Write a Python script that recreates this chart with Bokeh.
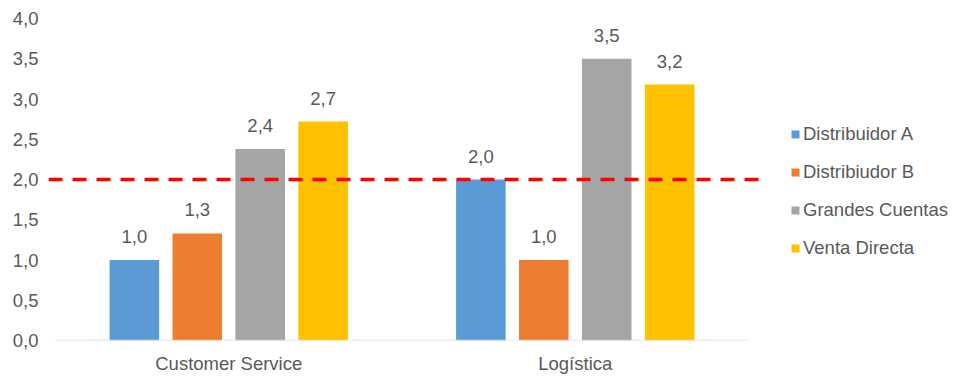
from bokeh.plotting import figure
from bokeh.layouts import row
from bokeh.models import (ColumnDataSource, Range1d, FixedTicker, Span, Legend,
                          LegendItem, LabelSet)
from bokeh.core.properties import value
from bokeh.embed import file_html
from bokeh.resources import INLINE

categories = ["Customer Service", "Logística"]
series = ["Distribuidor A", "Distribiudor B", "Grandes Cuentas", "Venta Directa"]
values = {
    "Distribuidor A": [1.0, 2.0],
    "Distribiudor B": [1.33, 1.0],
    "Grandes Cuentas": [2.38, 3.5],
    "Venta Directa": [2.72, 3.18],
}
colors = ["#5B9BD5", "#ED7D31", "#A5A5A5", "#FFC000"]
threshold = 2.0
y_ticks = [0, 0.5, 1.0, 1.5, 2.0, 2.5, 3.0, 3.5, 4.0]
y_tick_labels = ["0,0", "0,5", "1,0", "1,5", "2,0", "2,5", "3,0", "3,5", "4,0"]

FONT = "Liberation Sans"
FS = "18.5px"
TXT = "#595959"

p = figure(width=760, height=376, output_backend="svg", toolbar_location=None,
           x_range=Range1d(-0.0202, 2.0346), y_range=Range1d(0, 4),
           min_border_left=48, min_border_right=0, min_border_top=18,
           min_border_bottom=35)
p.outline_line_color = None
p.xgrid.visible = False
p.ygrid.visible = False

step = 0.1816
width = 0.143
for i, s in enumerate(series):
    off = (i - 1.5) * step
    xs = [j + 0.5 + off for j in range(len(categories))]
    src = ColumnDataSource(dict(x=xs, top=values[s],
                                lab=[f"{v:.1f}".replace(".", ",") for v in values[s]]))
    p.vbar(x="x", top="top", bottom=0, width=width, source=src,
           fill_color=colors[i], line_color=None)
    p.add_layout(LabelSet(x="x", y="top", text="lab", source=src,
                          text_align="center", text_baseline="alphabetic",
                          y_offset=17, text_font=value(FONT), text_font_size=value(FS),
                          text_color=TXT))

# baseline
p.segment(x0=[0], x1=[len(categories)], y0=[0], y1=[0], line_color="#D9D9D9",
          line_width=1.5)

p.add_layout(Span(location=threshold, dimension="width", line_color="#FF0000",
                  line_width=3.5, line_dash="14 10"))

# axes
p.xaxis.ticker = FixedTicker(ticks=[j + 0.5 for j in range(len(categories))])
p.xaxis.major_label_overrides = {j + 0.5: c for j, c in enumerate(categories)}
p.xaxis.axis_line_color = None
p.xaxis.major_tick_line_color = None
p.xaxis.minor_tick_line_color = None
p.xaxis.major_tick_out = 0
p.xaxis.major_tick_in = 0
p.xaxis.major_label_standoff = 12
p.xaxis.major_label_text_font = FONT
p.xaxis.major_label_text_font_size = FS
p.xaxis.major_label_text_color = TXT

p.yaxis.ticker = FixedTicker(ticks=y_ticks)
p.yaxis.major_label_overrides = {t: l for t, l in zip(y_ticks, y_tick_labels)}
p.yaxis.axis_line_color = None
p.yaxis.major_tick_line_color = None
p.yaxis.minor_tick_line_color = None
p.yaxis.major_tick_out = 0
p.yaxis.major_tick_in = 0
p.yaxis.major_label_standoff = 10
p.yaxis.major_label_text_font = FONT
p.yaxis.major_label_text_font_size = FS
p.yaxis.major_label_text_color = TXT

# legend panel (hidden swatch renderers)
p2 = figure(width=196, height=376, output_backend="svg", toolbar_location=None,
            x_range=Range1d(0, 1), y_range=Range1d(0, 1),
            min_border_left=0, min_border_right=0, min_border_top=0,
            min_border_bottom=0)
p2.axis.visible = False
p2.grid.visible = False
p2.outline_line_color = None
leg_renderers = []
for i, s in enumerate(series):
    r = p2.vbar(x=[0.5], top=[values[s][0]], bottom=0, width=0.1,
                fill_color=colors[i], line_color=None, visible=False)
    leg_renderers.append(r)

legend = Legend(items=[LegendItem(label=s, renderers=[r]) for s, r in zip(series, leg_renderers)],
                location=(30, 81), orientation="vertical",
                glyph_width=10, glyph_height=10, label_height=21, spacing=16,
                label_standoff=3, padding=0, margin=0,
                border_line_color=None, background_fill_alpha=0,
                inactive_fill_alpha=0,
                label_text_font=FONT, label_text_font_size=FS,
                label_text_color=TXT)
p2.add_layout(legend)

layout = row(p, p2, spacing=0)
open("out.html", "w").write(file_html(layout, INLINE))
